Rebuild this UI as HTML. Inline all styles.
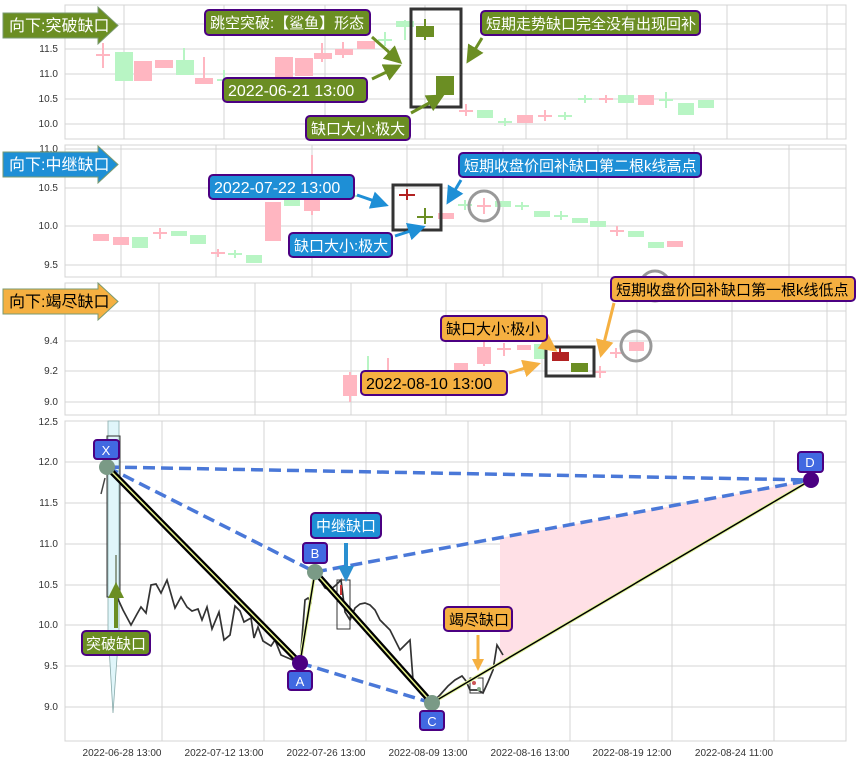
<!DOCTYPE html>
<html><head><meta charset="utf-8"><style>
body{margin:0;background:#fff}
text{font-family:"Liberation Sans","Noto Sans CJK SC",sans-serif}
</style></head><body>
<svg width="857" height="764" xmlns="http://www.w3.org/2000/svg">
<defs>
<marker id="ag" markerWidth="6" markerHeight="6" refX="5" refY="3" orient="auto" markerUnits="strokeWidth"><path d="M0,0 L6,3 L0,6 z" fill="#6b8e23"/></marker>
<marker id="ab" markerWidth="6" markerHeight="6" refX="5" refY="3" orient="auto" markerUnits="strokeWidth"><path d="M0,0 L6,3 L0,6 z" fill="#1e8fd6"/></marker>
<marker id="ao" markerWidth="6" markerHeight="6" refX="5" refY="3" orient="auto" markerUnits="strokeWidth"><path d="M0,0 L6,3 L0,6 z" fill="#f5b041"/></marker>
<marker id="ab2" markerWidth="4" markerHeight="4" refX="3" refY="2" orient="auto" markerUnits="strokeWidth"><path d="M0,0 L4,2 L0,4 z" fill="#2a8fd0"/></marker>
<marker id="ag2" markerWidth="4" markerHeight="4" refX="3" refY="2" orient="auto" markerUnits="strokeWidth"><path d="M0,0 L4,2 L0,4 z" fill="#6b8e23"/></marker>
<marker id="ao2" markerWidth="4" markerHeight="4" refX="3" refY="2" orient="auto" markerUnits="strokeWidth"><path d="M0,0 L4,2 L0,4 z" fill="#f5b041"/></marker>
</defs>
<g stroke="#d4d4d4" stroke-width="1" fill="none">
<rect x="65" y="5" width="781" height="134"/>
<path d="M124 5V139M224 5V139M325 5V139M425 5V139M526 5V139M627 5V139M727 5V139M827 5V139M65 24H846M65 49H846M65 74H846M65 99H846M65 124H846"/>
<rect x="65" y="145" width="781" height="132"/>
<path d="M121 145V277M216 145V277M312 145V277M407 145V277M503 145V277M598 145V277M694 145V277M789 145V277M65 149H846M65 188H846M65 226H846M65 265H846"/>
<rect x="65" y="283" width="781" height="132"/>
<path d="M159 283V415M255 283V415M351 283V415M446 283V415M542 283V415M637 283V415M732 283V415M827 283V415M65 311H846M65 341H846M65 371H846M65 402H846"/>
<rect x="65" y="421" width="781" height="320"/>
<path d="M162 421V741M264 421V741M366 421V741M468 421V741M570 421V741M672 421V741M774 421V741M65 462H846M65 503H846M65 544H846M65 585H846M65 625H846M65 666H846M65 707H846"/>
</g>
<g font-size="10" fill="#333" text-anchor="end">
<text x="58" y="52">11.5</text><text x="58" y="77">11.0</text><text x="58" y="102">10.5</text><text x="58" y="127">10.0</text>
<text x="58" y="152">11.0</text><text x="58" y="191">10.5</text><text x="58" y="229">10.0</text><text x="58" y="268">9.5</text>
<text x="58" y="344">9.4</text><text x="58" y="374">9.2</text><text x="58" y="405">9.0</text>
<text x="58" y="425">12.5</text><text x="58" y="465">12.0</text><text x="58" y="506">11.5</text><text x="58" y="547">11.0</text><text x="58" y="588">10.5</text><text x="58" y="628">10.0</text><text x="58" y="669">9.5</text><text x="58" y="710">9.0</text>
</g>
<g font-size="10" fill="#333" text-anchor="middle">
<text x="122" y="756">2022-06-28 13:00</text><text x="224" y="756">2022-07-12 13:00</text><text x="326" y="756">2022-07-26 13:00</text><text x="428" y="756">2022-08-09 13:00</text><text x="530" y="756">2022-08-16 13:00</text><text x="632" y="756">2022-08-19 12:00</text><text x="734" y="756">2022-08-24 11:00</text>
</g>
<g stroke-width="2">
<g stroke="#ffb6c1" fill="#ffb6c1">
<path d="M103 43V68M96 55H110M204 57V84M322 43V62M343 42V58M466 104V116M459 111H473M545 110V121M538 116H552M606 95V103M599 99H613"/>
<rect x="135" y="62" width="16" height="18"/><rect x="156" y="61" width="16" height="6"/><rect x="196" y="79" width="16" height="4"/><rect x="276" y="58" width="16" height="22"/><rect x="296" y="59" width="16" height="16"/><rect x="315" y="54" width="16" height="4"/><rect x="336" y="50" width="16" height="4"/><rect x="358" y="42" width="16" height="6"/><rect x="518" y="116" width="14" height="6"/><rect x="639" y="96" width="14" height="8"/>
</g>
<g stroke="#b8f5c4" fill="#b8f5c4">
<rect x="116" y="53" width="16" height="27"/><rect x="177" y="61" width="16" height="13"/><rect x="397" y="22" width="16" height="4"/><rect x="478" y="111" width="14" height="6"/><rect x="619" y="96" width="14" height="6"/><rect x="679" y="104" width="14" height="10"/><rect x="699" y="101" width="14" height="6"/>
<path d="M184 48V74M224 70V82M217 80H231M385 32V46M378 40H392M405 20V40M505 118V126M498 122H512M565 112V120M558 116H572M585 95V103M578 99H592M666 92V108M659 100H673"/>
</g>
<g stroke="#6b8e23" fill="#6b8e23">
<path d="M425 19V40"/><rect x="417" y="27" width="16" height="9"/><rect x="437" y="77" width="16" height="17"/>
</g>
</g>
<g stroke-width="2">
<g stroke="#ffb6c1" fill="#ffb6c1">
<rect x="94" y="235" width="14" height="5"/><rect x="114" y="238" width="14" height="6"/><rect x="266" y="203" width="14" height="37"/><rect x="305" y="199" width="14" height="11"/><rect x="439" y="214" width="14" height="4"/><rect x="668" y="242" width="14" height="4"/>
<path d="M160 228V239M153 233H167M218 249V257M211 253H225M312 155V215M331 184V195M484 198V214M477 206H491M617 226V236M610 231H624"/>
</g>
<g stroke="#b8f5c4" fill="#b8f5c4">
<rect x="133" y="238" width="14" height="9"/><rect x="172" y="232" width="14" height="3"/><rect x="191" y="236" width="14" height="7"/><rect x="247" y="256" width="14" height="6"/><rect x="285" y="200" width="14" height="5"/><rect x="535" y="212" width="14" height="4"/><rect x="573" y="219" width="14" height="3"/><rect x="591" y="222" width="14" height="4"/><rect x="629" y="232" width="14" height="4"/><rect x="649" y="243" width="14" height="4"/><rect x="496" y="202" width="14" height="4"/>
<path d="M235 250V258M228 254H242M351 190V200M344 196H358M465 200V210M458 205H472M522 202V210M515 206H529M561 211V220M554 216H568"/>
</g>
<path d="M407 189V200M399 195H415" stroke="#b22222"/>
<path d="M425 208V224M417 217H433" stroke="#6b8e23"/>
</g>
<g stroke-width="2">
<g stroke="#ffb6c1" fill="#ffb6c1">
<rect x="344" y="376" width="12" height="19"/><rect x="455" y="364" width="12" height="11"/><rect x="478" y="348" width="12" height="15"/><rect x="518" y="346" width="12" height="3"/><rect x="630" y="343" width="13" height="7"/>
<path d="M350 372V402M388 358V378M484 340V366M504 343V356M497 349H511M600 366V378M594 372H606M616 348V358M610 353H622"/>
</g>
<g stroke="#b8f5c4" fill="#b8f5c4"><rect x="535" y="345" width="11" height="13"/><path d="M368 356V378"/></g>
<rect x="553" y="353" width="15" height="7" fill="#b22222" stroke="#b22222"/><path d="M560 348V353" stroke="#b22222"/>
<rect x="572" y="364" width="15" height="7" fill="#6b8e23" stroke="#6b8e23"/>
</g>
<g fill="none" stroke="#333" stroke-width="3">
<rect x="411" y="9" width="50" height="98"/><rect x="393" y="185" width="48" height="45"/><rect x="546" y="347" width="48" height="29"/>
</g>
<g fill="none" stroke="#999" stroke-width="3">
<circle cx="484" cy="206" r="15"/><circle cx="636" cy="346" r="15"/><circle cx="655" cy="286" r="15"/>
</g>
<path d="M108 421H119V630L113 713L108 630Z" fill="#e0f6fa" stroke="#8aa" stroke-width="0.8"/>
<rect x="107" y="436" width="13" height="161" fill="none" stroke="#333" stroke-width="1"/>
<path d="M116 555V590" stroke="#8fa08f" stroke-width="2"/>
<polygon points="500,538 811,480 500,663" fill="#ffe0e6"/>
<polyline fill="none" stroke="#333" stroke-width="1.7" points="117,597 123,610 131,625 137,614 141,607 146,613 151,585 156,584 161,593 167,580 175,608 181,597 187,607 192,611 198,609 202,620 207,607 212,629 219,612 224,640 230,635 235,606 240,611 244,622 251,618 254,638 258,627 263,641 271,646 275,640 281,655 288,658 300,663 305,600 308,598 311,602 313,580 315,572 320,580 325,588 330,590 336,585 341,580 345,612 350,620 355,608 360,604 365,603 370,605 375,610 380,620 385,625 390,630 395,640 400,650 405,645 410,640 413,680 418,690 425,698 432,703 440,695 448,686 455,680 462,676 466,681 470,690 478,690 483,693 488,682 493,670 497,645 503,655"/>
<path d="M101 494L105 478" stroke="#444" stroke-width="1.5"/>
<rect x="337" y="580" width="13" height="49" fill="none" stroke="#333"/>
<path d="M341 585V595" stroke="#c33" stroke-width="2"/>
<rect x="470" y="678" width="13" height="15" fill="none" stroke="#333"/>
<circle cx="474" cy="683" r="2" fill="#c55"/><circle cx="479" cy="689" r="2" fill="#8a8"/>
<g stroke="#4a78d8" stroke-width="3.5" stroke-dasharray="12,6" fill="none">
<path d="M107 467L811 480M107 467L315 572M315 572L811 480M300 663L432 703"/>
</g>
<g fill="none">
<path d="M107 467L300 663M315 572L432 703" stroke="#000" stroke-width="6"/>
<path d="M107 467L300 663M315 572L432 703" stroke="#e6f28a" stroke-width="1.5"/>
<path d="M300 663L315 572M432 703L811 480" stroke="#e6f7a0" stroke-width="3.5"/>
<path d="M300 663L315 572M432 703L811 480" stroke="#000" stroke-width="1.5"/>
</g>
<circle cx="107" cy="467" r="8" fill="#7a9a86"/><circle cx="315" cy="572" r="8" fill="#7a9a86"/><circle cx="432" cy="703" r="8" fill="#7a9a86"/>
<circle cx="300" cy="663" r="8" fill="#4b0082"/><circle cx="811" cy="480" r="8" fill="#4b0082"/>
<g stroke="#4b0082" stroke-width="2" fill="#4169e1">
<rect x="94" y="440" width="25" height="19" rx="3"/><rect x="303" y="543" width="24" height="20" rx="3"/><rect x="288" y="671" width="24" height="19" rx="3"/><rect x="420" y="711" width="24" height="19" rx="3"/><rect x="798" y="452" width="25" height="20" rx="3"/>
</g>
<g fill="#fff" font-size="13" text-anchor="middle">
<text x="106" y="455">X</text><text x="315" y="558">B</text><text x="300" y="686">A</text><text x="432" y="726">C</text><text x="810" y="467">D</text>
</g>
<path d="M346 543V578" stroke="#2a8fd0" stroke-width="4" marker-end="url(#ab2)"/>
<path d="M116 628V586" stroke="#6b8e23" stroke-width="4" marker-end="url(#ag2)"/>
<path d="M478 635V668" stroke="#f5b041" stroke-width="3" marker-end="url(#ao2)"/>
<path d="M3 13H98V7L118 25.5L98 44V38H3Z" fill="#6b8e23" stroke="#7a9a70"/>
<text x="9" y="31" font-size="16" fill="#fff">向下:突破缺口</text>
<path d="M3 152H98V146L118 164.5L98 183V177H3Z" fill="#1e8fd6" stroke="#7a9a70"/>
<text x="9" y="170" font-size="16" fill="#fff">向下:中继缺口</text>
<path d="M3 289H98V283L118 301.5L98 320V314H3Z" fill="#f5b041" stroke="#7a9a70"/>
<text x="9" y="307" font-size="16" fill="#000">向下:竭尽缺口</text>
<g stroke-width="3" fill="none">
<path d="M372 37L400 62" stroke="#6b8e23" marker-end="url(#ag)"/>
<path d="M372 79L399 66" stroke="#6b8e23" marker-end="url(#ag)"/>
<path d="M411 113L442 96" stroke="#6b8e23" marker-end="url(#ag)"/>
<path d="M482 38L468 61" stroke="#6b8e23" marker-end="url(#ag)"/>
<path d="M357 195L386 205" stroke="#1e8fd6" marker-end="url(#ab)"/>
<path d="M395 236L423 227" stroke="#1e8fd6" marker-end="url(#ab)"/>
<path d="M461 180L448 202" stroke="#1e8fd6" marker-end="url(#ab)"/>
<path d="M544 342L555 350" stroke="#f5b041" marker-end="url(#ao)"/>
<path d="M509 373L538 364" stroke="#f5b041" marker-end="url(#ao)"/>
<path d="M614 303L601 355" stroke="#f5b041" marker-end="url(#ao)"/>
</g>
<g stroke="#4b0082" stroke-width="2">
<rect x="205" y="10" width="165" height="25" rx="4" fill="#6b8e23"/>
<rect x="223" y="78" width="144" height="24" rx="4" fill="#6b8e23"/>
<rect x="306" y="116" width="104" height="24" rx="4" fill="#6b8e23"/>
<rect x="481" y="11" width="219" height="24" rx="4" fill="#6b8e23"/>
<rect x="82" y="631" width="68" height="24" rx="4" fill="#6b8e23"/>
<rect x="209" y="175" width="145" height="24" rx="4" fill="#1e8fd6"/>
<rect x="289" y="233" width="103" height="24" rx="4" fill="#1e8fd6"/>
<rect x="459" y="153" width="242" height="24" rx="4" fill="#1e8fd6"/>
<rect x="311" y="513" width="70" height="25" rx="4" fill="#1e8fd6"/>
<rect x="441" y="316" width="106" height="25" rx="4" fill="#f5b041"/>
<rect x="361" y="371" width="146" height="24" rx="4" fill="#f5b041"/>
<rect x="611" y="277" width="244" height="24" rx="4" fill="#f5b041"/>
<rect x="444" y="607" width="68" height="24" rx="4" fill="#f5b041"/>
</g>
<g font-size="15" fill="#fff">
<text x="210" y="28">跳空突破:【鲨鱼】形态</text>
<text x="228" y="96" font-size="16">2022-06-21 13:00</text>
<text x="311" y="134">缺口大小:极大</text>
<text x="486" y="29">短期走势缺口完全没有出现回补</text>
<text x="86" y="649">突破缺口</text>
<text x="214" y="193" font-size="16">2022-07-22 13:00</text>
<text x="294" y="251">缺口大小:极大</text>
<text x="464" y="171">短期收盘价回补缺口第二根k线高点</text>
<text x="316" y="531">中继缺口</text>
</g>
<g font-size="15" fill="#000">
<text x="446" y="334">缺口大小:极小</text>
<text x="366" y="389" font-size="16">2022-08-10 13:00</text>
<text x="616" y="295">短期收盘价回补缺口第一根k线低点</text>
<text x="449" y="625">竭尽缺口</text>
</g>
</svg>
</body></html>
